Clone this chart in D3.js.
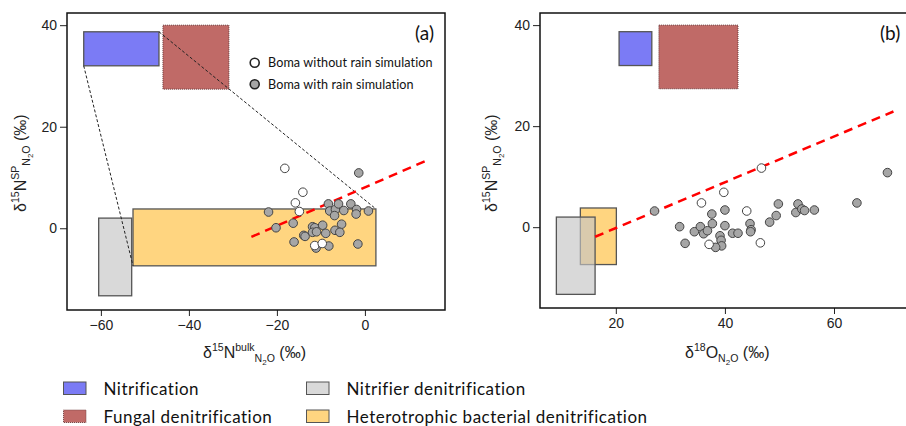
<!DOCTYPE html>
<html>
<head>
<meta charset="utf-8">
<script src="https://cdn.jsdelivr.net/npm/d3@7"></script>
<style>
  body { margin: 0; background: #fff; }
  svg { display: block; }
  .tick text { font-family: "Liberation Sans", Arial, sans-serif; font-size: 14px; fill: #222; }
  .tick line { stroke: #222; stroke-width: 1; }
  .frame { fill: none; stroke: #111; stroke-width: 1.5; }
  .axis-title { font-family: "Liberation Sans", Arial, sans-serif; fill: #222; }
  .lab { font-family: Lato, "Open Sans", sans-serif; fill: #111; }
</style>
</head>
<body>
<svg width="906" height="426"></svg>
<script>
// source boxes (literature ranges)
var sourceNames = ['Nitrification', 'Fungal denitrification', 'Nitrifier denitrification', 'Heterotrophic bacterial denitrification'];
var sourceColors = ['#7b7bf5', '#c06a67', '#d9d9d9', '#ffd580'];
var bulkMin = [-63.9, -45.9, -60.5, -52.7];
var bulkMax = [-46.8, -30.9, -53.0, 2.5];
var spMin = [32.0, 27.4, -13.3, -7.4];
var spMax = [38.7, 40.0, 2.0, 3.8];
var o18Min = [20.6, 27.9, 9.1, 13.5];
var o18Max = [26.6, 42.4, 16.2, 20.1];

// boma samples, panel (a)
var bulkDry = [-18.2, -14.1, -15.8, -14.9, -11.4, -9.7];
var spDryA = [11.8, 7.1, 5.0, 3.3, -3.4, -3.0];
var bulkRain = [-1.4, -21.9, -20.2, -16.3, -16.1, -13.9, -13.6, -11.9, -11.4, -11.9, -11.0, -9.6, -8.9, -8.2, -11.1,
  -8.3, -8.0, -6.7, -6.9, -6.0, -4.8, -5.3, -6.8, -5.7, -3.2, -1.9, -2.0, -1.6, 0.8];
var spRainA = [10.9, 3.2, 0.1, 1.0, -2.7, -1.4, -1.6, 0.3, 0.1, -0.8, -0.7, 0.6, -1.0, -3.5, -3.9,
  4.8, 3.4, 3.7, 2.5, 4.8, 3.5, 0.8, -0.4, -0.8, 4.8, 3.7, 2.8, -3.1, 3.4];

// boma samples, panel (b)
var o18Dry = [35.7, 39.8, 46.7, 44.0, 37.1, 46.5];
var spDryB = [4.8, 6.9, 11.7, 3.2, -3.4, -3.1];
var o18Rain = [27.1, 31.7, 32.7, 34.4, 35.5, 36.1, 36.8, 37.6, 37.7, 39.1, 39.3, 39.4, 38.3, 40.0, 40.0,
  41.4, 42.4, 44.6, 44.8, 44.7, 48.2, 49.4, 49.8, 53.0, 53.4, 54.1, 54.6, 56.4, 64.2, 69.8];
var spRainB = [3.2, 0.1, -3.2, -0.9, 0.1, -1.3, -0.7, 2.6, 0.7, -1.7, -2.6, -3.7, -4.0, 3.4, 0.3,
  -1.2, -1.2, 0.7, -0.5, -0.9, 1.0, 2.3, 4.6, 2.9, 4.6, 3.6, 3.3, 3.4, 4.8, 10.8];

// regression lines (end points)
var regBulk = [-25.8, 14.7], regSpA = [-1.7, 13.6];
var regO18 = [16.2, 70.9], regSpB = [-1.9, 22.9];

var xTicksA = [-60, -40, -20, 0];
var xTicksB = [20, 40, 60];
var yTicks = [0, 20, 40];
var pointLabels = ['Boma without rain simulation', 'Boma with rain simulation'];

(function() {
  var svg = d3.select('svg');

  // writes a label made of tspans; lvl 1 = superscript, -1 = subscript, -2 = sub of sub
  function richText(sel, parts, size) {
    var sizes = {'0': size, '1': size * 0.66, '-1': size * 0.66, '-2': size * 0.5};
    var offs = {'0': 0, '1': -size * 0.42, '-1': size * 0.28, '-2': size * 0.42};
    var cur = 0;
    parts.forEach(function(p) {
      var o = offs[p[1]];
      sel.append('tspan').attr('dy', o - cur).attr('font-size', sizes[p[1]]).text(p[0]);
      cur = o;
    });
  }

  function panel(xDom, xRange, yDom, yRange, xTicks) {
    var x = d3.scaleLinear().domain(xDom).range(xRange);
    var y = d3.scaleLinear().domain(yDom).range(yRange);
    var g = svg.append('g');
    g.append('g').attr('transform', 'translate(0,' + yRange[0] + ')')
      .call(d3.axisBottom(x).tickValues(xTicks).tickSize(6).tickPadding(4))
      .call(function(a) { a.select('.domain').remove(); });
    g.append('g').attr('transform', 'translate(' + xRange[0] + ',0)')
      .call(d3.axisLeft(y).tickValues(yTicks).tickSize(7).tickPadding(3))
      .call(function(a) { a.select('.domain').remove(); });
    return {x: x, y: y, g: g, xr: xRange, yr: yRange};
  }

  function boxes(p, xmin, xmax, order) {
    order.forEach(function(i) {
      p.g.append('rect')
        .attr('x', p.x(xmin[i]))
        .attr('y', p.y(spMax[i]))
        .attr('width', p.x(xmax[i]) - p.x(xmin[i]))
        .attr('height', p.y(spMin[i]) - p.y(spMax[i]))
        .attr('fill', i === 2 ? '#c4c4c4' : sourceColors[i])
        .attr('fill-opacity', i === 2 ? 0.65 : 1)
        .attr('stroke', i === 1 ? '#6a3a3a' : '#555')
        .attr('stroke-width', i === 1 ? 1 : 1.3)
        .attr('stroke-dasharray', i === 1 ? '1,1' : null);
    });
  }

  function regLine(p, xs, ys) {
    p.g.append('line')
      .attr('x1', p.x(xs[0])).attr('y1', p.y(ys[0]))
      .attr('x2', p.x(xs[1])).attr('y2', p.y(ys[1]))
      .attr('stroke', '#ff0000').attr('stroke-width', 2.5)
      .attr('stroke-dasharray', '9,6');
  }

  function dots(p, xs, ys, fill) {
    p.g.append('g').selectAll('circle').data(xs).enter().append('circle')
      .attr('cx', function(d) { return p.x(d); })
      .attr('cy', function(d, i) { return p.y(ys[i]); })
      .attr('r', 4.3)
      .attr('fill', fill)
      .attr('stroke', '#444')
      .attr('stroke-width', 1);
  }

  function frame(p) {
    p.g.append('rect').attr('class', 'frame')
      .attr('x', p.xr[0]).attr('y', p.yr[1])
      .attr('width', p.xr[1] - p.xr[0]).attr('height', p.yr[0] - p.yr[1]);
  }

  // ---- panel (a)
  var pa = panel([-67.7, 18.2], [67, 445], [-16.1, 42.4], [310, 13], xTicksA);
  boxes(pa, bulkMin, bulkMax, [0, 1, 2, 3]);
  // mixing envelope between nitrification and heterotrophic denitrification boxes
  [[bulkMin, spMin], [bulkMax, spMax]].forEach(function(c) {
    pa.g.append('line')
      .attr('x1', pa.x(c[0][0])).attr('y1', pa.y(c[1][0]))
      .attr('x2', pa.x(c[0][3])).attr('y2', pa.y(c[1][3]))
      .attr('stroke', '#222').attr('stroke-width', 1).attr('stroke-dasharray', '3,2');
  });
  regLine(pa, regBulk, regSpA);
  dots(pa, bulkRain, spRainA, '#a6a6a6');
  dots(pa, bulkDry, spDryA, '#fff');
  frame(pa);

  // in-plot legend
  [['#fff', 62.7], ['#a6a6a6', 84.3]].forEach(function(l, i) {
    pa.g.append('circle').attr('cx', 254.7).attr('cy', l[1]).attr('r', 4.5)
      .attr('fill', l[0]).attr('stroke', '#222').attr('stroke-width', 1.6);
    pa.g.append('text').attr('class', 'lab').attr('x', 268).attr('y', l[1] + 4.3)
      .attr('font-size', 12.6).attr('letter-spacing', 0.1).text(pointLabels[i]);
  });
  pa.g.append('text').attr('class', 'lab').attr('x', 434).attr('y', 40)
    .attr('text-anchor', 'end').attr('font-size', 19).text('(a)');

  richText(svg.append('text').attr('class', 'axis-title').attr('x', 203).attr('y', 358),
    [['δ', 0], ['15', 1], ['N', 0], ['bulk', 1], ['N', -1], ['2', -2], ['O', -1], [' (‰)', 0]], 16);
  richText(svg.append('text').attr('class', 'axis-title')
      .attr('transform', 'translate(26,212) rotate(-90)'),
    [['δ', 0], ['15', 1], ['N', 0], ['SP', 1], ['N', -1], ['2', -2], ['O', -1], [' (‰)', 0]], 16);

  // ---- panel (b)
  var pb = panel([6.1, 74.3], [540, 912], [-16.0, 42.4], [308, 13], xTicksB);
  boxes(pb, o18Min, o18Max, [0, 1, 3, 2]);
  regLine(pb, regO18, regSpB);
  dots(pb, o18Rain, spRainB, '#a6a6a6');
  dots(pb, o18Dry, spDryB, '#fff');
  frame(pb);
  pb.g.append('text').attr('class', 'lab').attr('x', 880).attr('y', 40)
    .attr('font-size', 19).text('(b)');

  richText(svg.append('text').attr('class', 'axis-title').attr('x', 685).attr('y', 358),
    [['δ', 0], ['18', 1], ['O', 0], ['N', -1], ['2', -2], ['O', -1], [' (‰)', 0]], 16);
  richText(svg.append('text').attr('class', 'axis-title')
      .attr('transform', 'translate(497,212) rotate(-90)'),
    [['δ', 0], ['15', 1], ['N', 0], ['SP', 1], ['N', -1], ['2', -2], ['O', -1], [' (‰)', 0]], 16);

  // ---- bottom legend
  var legPos = [[63.5, 382], [63.5, 410], [306.5, 382], [306.5, 410]];
  sourceNames.forEach(function(name, i) {
    var lg = svg.append('g').attr('transform', 'translate(' + legPos[i][0] + ',' + legPos[i][1] + ')');
    lg.append('rect').attr('width', 22.5).attr('height', 12.5)
      .attr('fill', sourceColors[i]).attr('stroke', i === 1 ? '#7a4a4a' : '#555')
      .attr('stroke-width', 1).attr('stroke-dasharray', i === 1 ? '1,1' : null);
    lg.append('text').attr('class', 'lab').attr('x', 40).attr('y', 12.6)
      .attr('font-size', 17).attr('letter-spacing', 0.5).text(name);
  });
}).call(this);
</script>
</body>
</html>
